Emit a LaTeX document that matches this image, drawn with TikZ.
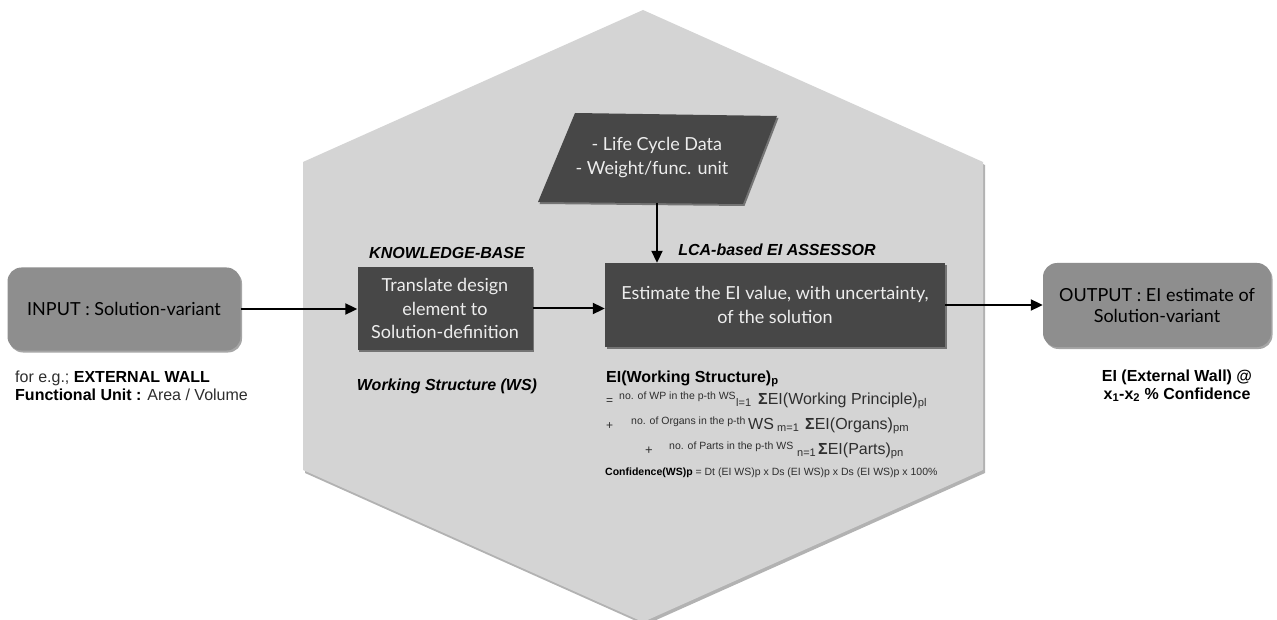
\documentclass[tikz,border=0pt]{standalone}
\usepackage{fontspec}
\setmainfont{Liberation Sans}
\newfontfamily\gill{Lato}
\usetikzlibrary{shadows,arrows.meta}
\definecolor{hexgray}{HTML}{D4D4D4}
\definecolor{darkbox}{HTML}{474747}
\definecolor{iogray}{HTML}{8E8E8E}
\definecolor{txtgray}{HTML}{2E2E2E}
\newcommand{\smallnote}[1]{\raisebox{5pt}{\fontsize{10.5}{11}\selectfont #1}}
\newcommand{\lowidx}[1]{\raisebox{-2pt}{\fontsize{11}{11}\selectfont #1}}
\begin{document}
\begin{tikzpicture}[x=1pt,y=-1pt,
  iobox/.style={fill=iogray, rounded corners=14pt, align=center, font=\gill\fontsize{18}{21}\selectfont, text=black,
    drop shadow={shadow xshift=1.5pt, shadow yshift=-2pt, opacity=0.35, fill=black}},
  dbox/.style={fill=darkbox, align=center, font=\gill\fontsize{18}{23.5}\selectfont, text=white!93!black,
    drop shadow={shadow xshift=1.5pt, shadow yshift=-2pt, opacity=0.45, fill=black}},
  lbl/.style={font=\fontsize{16}{18}\selectfont\bfseries\itshape, text=black, inner sep=0pt},
  note/.style={font=\fontsize{16}{17.5}\selectfont, text=txtgray, inner sep=0pt},
  frm/.style={inner sep=0pt, anchor=base west, font=\fontsize{16}{18}\selectfont, text=txtgray},
  conn/.style={line width=2pt, draw=black, -{Triangle[length=12pt,width=11pt]}}
]
\useasboundingbox (0,0) rectangle (1277,620);
\fill[white] (0,0) rectangle (1277,620);
% hexagon
\path[fill=hexgray, drop shadow={shadow xshift=2pt, shadow yshift=-3pt, opacity=0.3, fill=black}]
  (643,10) -- (983,162) -- (983,470) -- (643,622) -- (303,470) -- (303,162) -- cycle;
% data parallelogram
\path[fill=darkbox, drop shadow={shadow xshift=1.5pt, shadow yshift=-2pt, opacity=0.45, fill=black}]
  (575,113) -- (777,116) -- (743,204) -- (538,202) -- cycle;
\node[inner sep=0pt, minimum height=90pt, align=left,
      font=\gill\fontsize{18}{24}\selectfont, text=white!93!black] (data) at (652,158)
  {\hspace*{16pt}- Life Cycle Data\\- Weight/func. unit};
\coordinate (dataout) at (657,203);
% boxes
\node[iobox, minimum width=233pt, minimum height=83pt] (in) at (124,309) {INPUT : Solution-variant};
\node[dbox, minimum width=175pt, minimum height=83pt] (kb) at (445,308.5) {Translate design\\element to\\Solution-definition};
\node[dbox, minimum width=340pt, minimum height=84pt, font=\gill\fontsize{18}{24}\selectfont] (lca) at (775,305) {Estimate the EI value, with uncertainty,\\of the solution};
\node[iobox, minimum width=228pt, minimum height=84pt] (out) at (1157,305) {OUTPUT : EI estimate of\\Solution-variant};
% connectors
\draw[conn] (in.east) -- (kb.west |- in.east);
\draw[conn] (kb.east) -- (kb.east -| lca.west);
\draw[conn] (lca.east) -- (out.west);
\draw[conn] (dataout) -- (dataout |- lca.north);
% labels
\node[lbl] (kblbl) at (447,253) {KNOWLEDGE-BASE};
\node[lbl] (lcalbl) at (777,250) {LCA-based EI ASSESSOR};
\node[lbl] (wslbl) at (447,386) {Working Structure (WS)};
\node[note, anchor=west, align=left] (inlbl) at (15,386)
  {for e.g.; \textbf{\color{black}EXTERNAL WALL}\\\textbf{\color{black}Functional Unit :} Area / Volume};
\node[note, align=center, font=\fontsize{16}{17.5}\selectfont\bfseries, text=black] (outlbl) at (1177,386)
  {EI (External Wall) @\\x\textsubscript{1}-x\textsubscript{2} \% Confidence};
% formulas
\node[inner sep=0pt, anchor=base west, font=\fontsize{16}{18}\selectfont\bfseries, text=black] (f0) at (606,382)
  {EI(Working Structure)\textsubscript{p}};
\node[frm] (f1) at (606,404)
  {\makebox[13pt][l]{\fontsize{12}{12}\selectfont =}\makebox[117pt][l]{\smallnote{no. of WP in the p-th WS}}\makebox[22pt][l]{\lowidx{l=1}}\textbf{Σ}EI(Working Principle)\textsubscript{pl}};
\node[frm] (f2) at (606,429)
  {\makebox[25pt][l]{\fontsize{12}{12}\selectfont +}\makebox[117pt][l]{\smallnote{no. of Organs in the p-th}}\makebox[29pt][l]{WS}\makebox[28pt][l]{\lowidx{m=1}}\textbf{Σ}EI(Organs)\textsubscript{pm}};
\node[frm] (f3) at (645,454)
  {\makebox[24pt][l]{\fontsize{13}{13}\selectfont +}\makebox[128pt][l]{\smallnote{no. of Parts in the p-th WS}}\makebox[21pt][l]{\lowidx{n=1}}\textbf{Σ}EI(Parts)\textsubscript{pn}};
\node[inner sep=0pt, anchor=base west, font=\fontsize{10.5}{11}\selectfont, text=txtgray] (f4) at (605,475)
  {\textbf{\color{black}Confidence(WS)p} = Dt (EI WS)p x Ds (EI WS)p x Ds (EI WS)p x 100\%};
\end{tikzpicture}
\end{document}
